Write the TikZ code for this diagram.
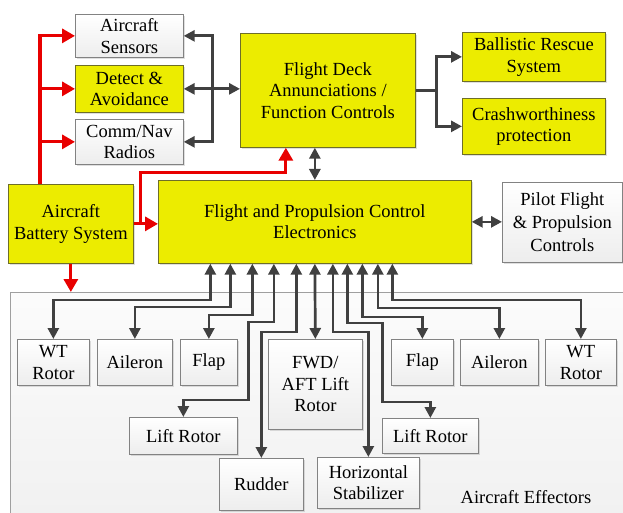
\documentclass[tikz,border=0pt]{standalone}
\usepackage{fontspec}
\setmainfont{Liberation Serif}
\usetikzlibrary{arrows.meta,calc,shadows}
\definecolor{ylw}{RGB}{236,236,0}
\definecolor{ylwd}{RGB}{110,110,40}
\definecolor{gbd}{RGB}{130,130,130}
\definecolor{arr}{RGB}{64,64,64}
\definecolor{rarr}{RGB}{232,0,0}
\begin{document}
\begin{tikzpicture}[x=1pt,y=-1pt,
  box/.style={inner sep=0pt, align=center, anchor=north west,
    font=\fontsize{18.5}{21.5}\selectfont,
    drop shadow={shadow xshift=1.3pt,shadow yshift=-1.3pt,opacity=0.25}},
  ybox/.style={box, draw=ylwd, line width=0.7pt, fill=ylw},
  gbox/.style={box, draw=gbd, line width=0.7pt, top color=white, bottom color=gray!14},
  tipg/.tip={Triangle[width=11pt,length=11pt]},
  tipr/.tip={Triangle[width=14pt,length=13pt]},
  garr/.style={draw=arr, line width=2.7pt},
  rline/.style={draw=rarr, line width=3.2pt}
]
\useasboundingbox (0,0) rectangle (623,513);
\fill[white] (0,0) rectangle (623,513);

% effectors background
\node[inner sep=0pt, anchor=north west, minimum width=616pt, minimum height=224pt,
  top color=gray!3, bottom color=gray!11, draw=gray!75, line width=0.6pt] (eff) at (10,292) {};
\node[anchor=center, font=\fontsize{18.5}{21.5}\selectfont] (efftxt) at (526,497) {Aircraft Effectors};

% upper boxes
\node[gbox, minimum width=108pt, minimum height=43pt] (sens) at (75,14) {Aircraft\\Sensors};
\node[ybox, minimum width=108pt, minimum height=47pt] (det) at (75,65) {Detect \&\\Avoidance};
\node[gbox, minimum width=108pt, minimum height=45pt] (comm) at (75,119) {Comm/Nav\\Radios};
\node[ybox, minimum width=125pt, minimum height=79pt] (bat) at (8,184) {Aircraft\\Battery System};
\node[ybox, minimum width=175pt, minimum height=114pt] (fd) at (240,33) {Flight Deck\\Annunciations /\\Function Controls};
\node[ybox, minimum width=143pt, minimum height=49pt] (bal) at (462,32) {Ballistic Rescue\\System};
\node[ybox, minimum width=143pt, minimum height=56pt] (crash) at (462,98) {Crashworthiness\\protection};
\node[ybox, minimum width=313pt, minimum height=83pt] (fpce) at (158,180) {Flight and Propulsion Control\\Electronics};
\node[gbox, minimum width=120pt, minimum height=80pt, font=\fontsize{18.5}{23}\selectfont] (pilot) at (502,182) {Pilot Flight\\\& Propulsion\\Controls};

% effector boxes
\node[gbox, minimum width=72pt, minimum height=46pt] (wtl) at (17,339) {WT\\Rotor};
\node[gbox, minimum width=75pt, minimum height=46pt] (aill) at (97,339) {Aileron};
\node[gbox, minimum width=57pt, minimum height=46pt] (flapl) at (180,339) {Flap};
\node[gbox, minimum width=94pt, minimum height=90pt] (fwd) at (268,339) {FWD/\\AFT Lift\\Rotor};
\node[gbox, minimum width=62pt, minimum height=46pt] (flapr) at (391,339) {Flap};
\node[gbox, minimum width=78pt, minimum height=46pt] (ailr) at (460,339) {Aileron};
\node[gbox, minimum width=71pt, minimum height=46pt] (wtr) at (545,339) {WT\\Rotor};
\node[gbox, minimum width=108pt, minimum height=37pt] (liftl) at (129,417) {Lift Rotor};
\node[gbox, minimum width=96pt, minimum height=35pt] (liftr) at (382,418) {Lift Rotor};
\node[gbox, minimum width=84pt, minimum height=52pt] (rudder) at (219,458) {Rudder};
\node[gbox, minimum width=102pt, minimum height=51pt] (hstab) at (317,457) {Horizontal\\Stabilizer};

% red power lines
\draw[rline, -tipr] ($(bat.north west)+(32,0)$) |- (sens.west);
\draw[rline, -tipr] ($(bat.north west)+(32,0)$) |- (det.west);
\draw[rline, -tipr] ($(bat.north west)+(32,0)$) |- (comm.west);
\draw[rline, -tipr] (bat.east) -- (bat.east -| fpce.west);
\draw[rline, -tipr] ($(bat.east)+(7,0)$) |- ($(fd.south)+(-42,25)$) -- ($(fd.south)+(-42,0)$);
\draw[rline, -tipr] (bat.south) -- (bat.south |- eff.north);

% dark data lines, upper
\draw[garr, tipg-tipg] (det.east) -- (det.east -| fd.west);
\draw[garr, -tipg] ($(det.east)+(29,0)$) |- (sens.east);
\draw[garr, -tipg] ($(det.east)+(29,0)$) |- (comm.east);
\draw[garr, -tipg] (fd.east) -- ++(21,0) |- (bal.west);
\draw[garr, -tipg] ($(fd.east)+(21,0)$) |- (crash.west);
\draw[garr, tipg-tipg] (fpce.north) -- (fpce.north |- fd.south);
\draw[garr, tipg-tipg] (fpce.east) -- (fpce.east -| pilot.west);

% dark data lines to effectors
\draw[garr, tipg-tipg] ($(fpce.south)+(-104.5,0)$) |- ($(wtl.north)+(0,-39)$) -- (wtl.north);
\draw[garr, tipg-tipg] ($(fpce.south)+(-84.5,0)$) |- ($(aill.north)+(0,-32)$) -- (aill.north);
\draw[garr, tipg-tipg] ($(fpce.south)+(-62.5,0)$) |- ($(flapl.north)+(0,-24)$) -- (flapl.north);
\draw[garr, tipg-tipg] ($(fpce.south)+(-41,0)$) |- ($(liftl.north)+(65,-95)$) |- ($(liftl.north)+(0,-17)$) -- (liftl.north);
\draw[garr, tipg-tipg] ($(fpce.south)+(-18.5,0)$) |- ($(rudder.north)+(0,-126)$) -- (rudder.north);
\draw[garr, tipg-tipg] (fpce.south) -- (fwd.north);
\draw[garr, tipg-tipg] ($(fpce.south)+(18,0)$) |- ($(hstab.north)+(0,-125)$) -- (hstab.north);
\draw[garr, tipg-tipg] ($(fpce.south)+(32.5,0)$) |- ($(liftr.north)+(-48,-95)$) |- ($(liftr.north)+(0,-16)$) -- (liftr.north);
\draw[garr, tipg-tipg] ($(fpce.south)+(47.5,0)$) |- ($(flapr.north)+(0,-22)$) -- (flapr.north);
\draw[garr, tipg-tipg] ($(fpce.south)+(63,0)$) |- ($(ailr.north)+(0,-31)$) -- (ailr.north);
\draw[garr, tipg-tipg] ($(fpce.south)+(77.5,0)$) |- ($(wtr.north)+(0,-39)$) -- (wtr.north);
\end{tikzpicture}
\end{document}
